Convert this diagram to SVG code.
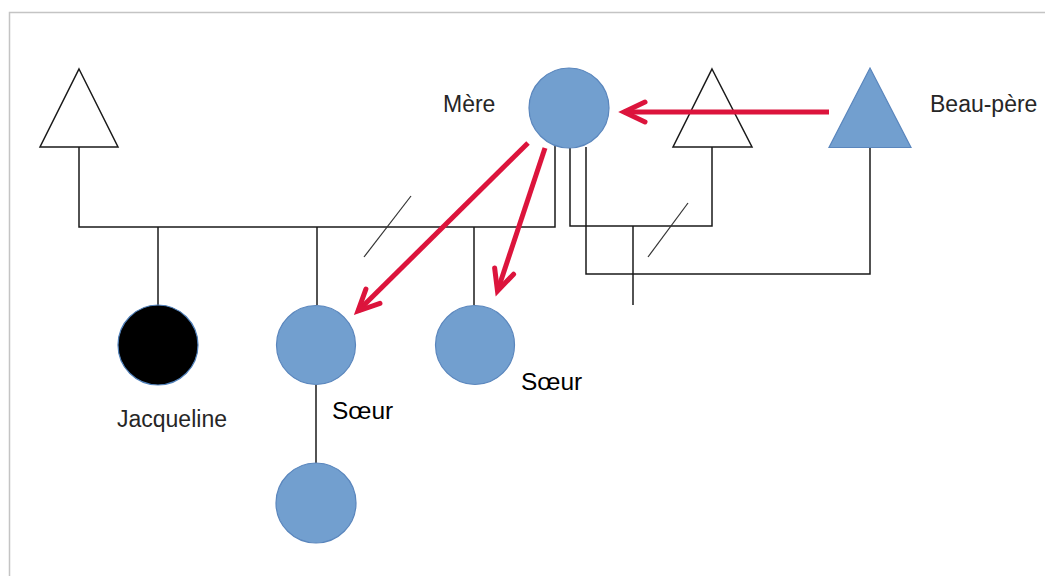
<svg xmlns="http://www.w3.org/2000/svg" width="1045" height="576" viewBox="0 0 1045 576">
  <style>
    .lbl { font-family: "Liberation Sans", Arial, sans-serif; font-size: 23px; fill: #262626; }
    .lbl2 { font-family: "Liberation Sans", Arial, sans-serif; font-size: 24.5px; fill: #000000; }
    .male { fill: #ffffff; stroke: #1a1a1a; stroke-width: 1.5; stroke-linejoin: miter; }
    .blue { fill: #729fcf; stroke: #5a86bd; stroke-width: 1.2; }
    .black { fill: #000000; stroke: #4f7fb8; stroke-width: 1.2; }
    .ln { fill: none; stroke: #1a1a1a; stroke-width: 1.5; }
    .sl { fill: none; stroke: #333333; stroke-width: 1.2; }
    .red { fill: none; stroke: #dc143c; stroke-width: 5; }
  </style>
  <defs>
    <marker id="chev" markerUnits="userSpaceOnUse" markerWidth="40" markerHeight="40" refX="30" refY="20" orient="auto" overflow="visible">
      <path d="M 9 10 L 30 20 L 9 30" fill="none" stroke="#dc143c" stroke-width="5" stroke-linecap="round" stroke-linejoin="miter"/>
    </marker>
  </defs>
  <rect x="0" y="0" width="1045" height="576" fill="#ffffff"/>
  <rect x="9.5" y="12.5" width="1100" height="700" fill="none" stroke="#c4c4c4" stroke-width="1.5"/>

  <g id="connectors">
    <polyline class="ln" points="79,147 79,227 555,227 555,146"/>
    <line class="ln" x1="158" y1="227" x2="158" y2="305"/>
    <line class="ln" x1="317" y1="227" x2="317" y2="305"/>
    <line class="ln" x1="474" y1="227" x2="474" y2="305"/>
    <line class="sl" x1="364" y1="257" x2="411" y2="196"/>
    <polyline class="ln" points="570,148 570,226 712,226 712,147"/>
    <polyline class="ln" points="586,147 586,274 870,274 870,147"/>
    <line class="ln" x1="633" y1="226" x2="633" y2="305"/>
    <line class="sl" x1="648" y1="257" x2="688" y2="203"/>
    <line class="ln" x1="316" y1="385" x2="316" y2="463"/>
  </g>

  <g id="n-grandpere">
    <polygon class="male" points="79,69 118,147 40,147"/>
  </g>
  <g id="n-pere">
    <polygon class="male" points="712,69 752,147 673,147"/>
  </g>
  <g id="n-beaupere">
    <polygon class="blue" points="870,68 911,147.5 829,147.5"/>
    <text class="lbl" x="930" y="112">Beau-père</text>
  </g>
  <g id="n-mere">
    <circle class="blue" cx="569" cy="108" r="40"/>
    <text class="lbl" x="443" y="112">Mère</text>
  </g>
  <g id="n-jacqueline">
    <circle class="black" cx="158" cy="345" r="40"/>
    <text class="lbl" x="117" y="427">Jacqueline</text>
  </g>
  <g id="n-soeur1">
    <circle class="blue" cx="316" cy="345" r="39.5"/>
    <text class="lbl2" x="332" y="419">Sœur</text>
  </g>
  <g id="n-soeur2">
    <circle class="blue" cx="475" cy="345" r="39.5"/>
    <text class="lbl2" x="521" y="390">Sœur</text>
  </g>
  <g id="n-enfant">
    <circle class="blue" cx="316" cy="503" r="40"/>
  </g>

  <g id="arrows">
    <line class="red" x1="829" y1="112" x2="624" y2="112" marker-end="url(#chev)"/>
    <line class="red" x1="528" y1="143" x2="358" y2="311" marker-end="url(#chev)"/>
    <line class="red" x1="545" y1="148" x2="497.5" y2="291" marker-end="url(#chev)"/>
  </g>
</svg>
